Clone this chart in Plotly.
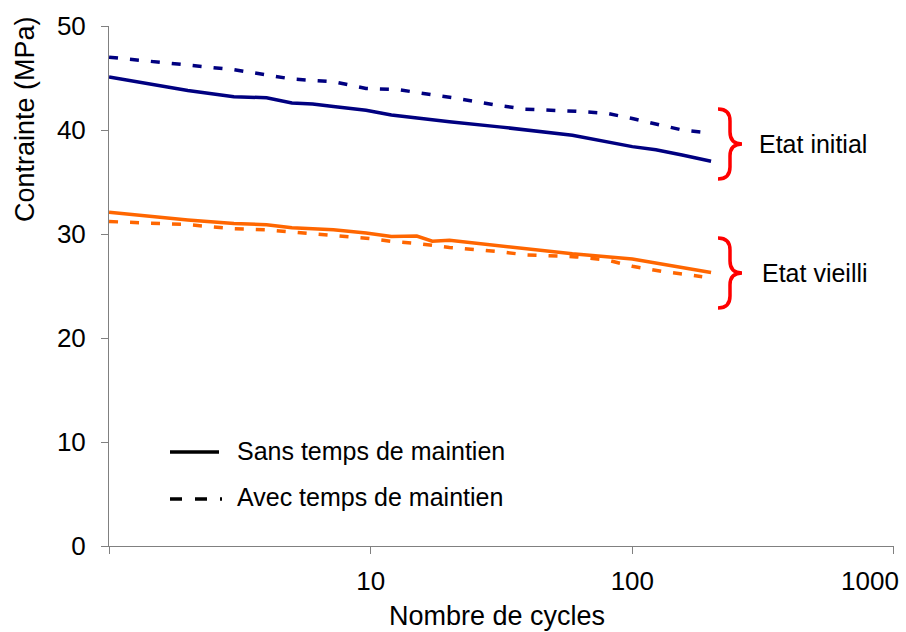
import plotly.graph_objects as go

# ---- data ----
x_init_sans = [1, 2, 3, 4, 5, 6, 7.2, 9.6, 12, 18, 20, 31, 59, 100, 123, 155, 200]
y_init_sans = [45.1, 43.8, 43.2, 43.1, 42.6, 42.5, 42.25, 41.9, 41.45, 41.0, 40.8, 40.3, 39.5, 38.4, 38.1, 37.6, 37.0]

x_init_avec = [1, 2, 3, 4, 5, 7.2, 9.6, 12, 13, 17, 20.6, 30, 39, 61, 80, 100, 127, 155, 185]
y_init_avec = [47.0, 46.2, 45.8, 45.3, 44.9, 44.65, 44.0, 43.9, 43.85, 43.4, 43.1, 42.4, 42.0, 41.8, 41.6, 41.1, 40.5, 40.0, 39.8]

x_vieil_sans = [1, 2, 3, 4, 5, 7.2, 9.6, 12, 15, 17.2, 20, 31, 59, 100, 142, 200]
y_vieil_sans = [32.1, 31.35, 31.0, 30.9, 30.6, 30.4, 30.1, 29.75, 29.8, 29.3, 29.4, 28.9, 28.1, 27.6, 26.9, 26.3]

x_vieil_avec = [1, 2, 3, 4, 5, 7.2, 9.6, 12, 15, 20, 31, 39, 61, 80, 100, 130, 185]
y_vieil_avec = [31.2, 30.9, 30.5, 30.4, 30.2, 29.9, 29.6, 29.3, 29.1, 28.7, 28.3, 28.0, 27.8, 27.5, 26.9, 26.4, 25.9]

x_tickvals = [1, 10, 100, 1000]
x_ticktext = ["", "10", "100", ""]   # "1000" is drawn shifted left to stay inside the page
last_x_label = "1000"
y_tickvals = [0, 10, 20, 30, 40, 50]

NAVY = "#000080"
ORANGE = "#FF6600"
RED = "#FF0000"
FONT = "Arial, Liberation Sans, sans-serif"
DASH = "9px,12px"
AXC = "#808080"

W, H = 906, 632
L, R, T, B = 109, 894, 26, 546


def px(x):
    return (x - L) / (R - L)


def py(y):
    return (B - y) / (B - T)


fig = go.Figure()
fig.add_trace(go.Scatter(x=x_init_sans, y=y_init_sans, mode="lines",
                         line=dict(color=NAVY, width=3.5), showlegend=False))
fig.add_trace(go.Scatter(x=x_init_avec, y=y_init_avec, mode="lines",
                         line=dict(color=NAVY, width=3.5, dash=DASH), showlegend=False))
fig.add_trace(go.Scatter(x=x_vieil_sans, y=y_vieil_sans, mode="lines",
                         line=dict(color=ORANGE, width=3.5), showlegend=False))
fig.add_trace(go.Scatter(x=x_vieil_avec, y=y_vieil_avec, mode="lines",
                         line=dict(color=ORANGE, width=3.5, dash=DASH), showlegend=False))


def brace(x0, ytop, ymid, ybot, depth=12, tip=12):
    xm = x0 + depth
    xt = xm + tip
    pts = [
        ("M", [(x0, ytop)]),
        ("Q", [(xm, ytop), (xm, ytop + 12)]),
        ("L", [(xm, ymid - 12)]),
        ("Q", [(xm, ymid), (xt, ymid)]),
        ("Q", [(xm, ymid), (xm, ymid + 12)]),
        ("L", [(xm, ybot - 12)]),
        ("Q", [(xm, ybot), (x0, ybot)]),
    ]
    s = ""
    for cmd, ps in pts:
        s += cmd + " " + " ".join(f"{px(a):.5f},{py(b):.5f}" for a, b in ps) + " "
    return s.strip()


shapes = [
    dict(type="path", xref="paper", yref="paper", path=brace(718, 109, 144, 179),
         line=dict(color=RED, width=3.5)),
    dict(type="path", xref="paper", yref="paper", path=brace(718, 238, 273, 308),
         line=dict(color=RED, width=3.5)),
    # legend samples
    dict(type="line", xref="paper", yref="paper", x0=px(170), x1=px(219), y0=py(452), y1=py(452),
         line=dict(color="black", width=3.5)),
    dict(type="line", xref="paper", yref="paper", x0=px(170), x1=px(222), y0=py(499), y1=py(499),
         line=dict(color="black", width=3.5, dash="12px,13px")),
]


def ann(text, x, y, size, xanchor="left", textangle=0):
    return dict(text=text, xref="paper", yref="paper", x=px(x), y=py(y),
                xanchor=xanchor, yanchor="middle", showarrow=False, textangle=textangle,
                font=dict(size=size, color="black", family=FONT))


annotations = [
    ann("Etat initial", 757, 144, 25),
    ann("Etat vieilli", 760, 273, 25),
    ann("Sans temps de maintien", 235, 451, 25),
    ann("Avec temps de maintien", 235, 497, 25),
    ann("Nombre de cycles", 497, 616, 27, xanchor="center"),
    ann("Contrainte (MPa)", 25, 119, 27, xanchor="center", textangle=-90),
    ann(last_x_label, 901, 581, 26, xanchor="right"),
]

fig.update_layout(
    width=W, height=H,
    margin=dict(l=L, r=W - R, t=T, b=H - B, pad=0, autoexpand=False),
    paper_bgcolor="white", plot_bgcolor="white",
    showlegend=False,
    shapes=shapes,
    annotations=annotations,
    font=dict(family=FONT, color="black"),
)

fig.update_xaxes(
    type="log", range=[-0.0002, 3.0002],
    tickvals=x_tickvals, ticktext=x_ticktext,
    ticks="outside", ticklen=7, tickcolor=AXC, tickwidth=1,
    showline=True, linecolor=AXC, linewidth=1,
    showgrid=False, zeroline=False, automargin=False,
    tickfont=dict(size=26, family=FONT, color="black"),
    ticklabelstandoff=5,
)
fig.update_yaxes(
    range=[0, 50], tickvals=y_tickvals,
    ticks="outside", ticklen=7, tickcolor=AXC, tickwidth=1,
    showline=True, linecolor=AXC, linewidth=1,
    showgrid=False, zeroline=False, automargin=False,
    tickfont=dict(size=26, family=FONT, color="black"),
    ticklabelstandoff=10,
)

fig.write_html("out.html", config={"displayModeBar": False},
               post_script="document.body.style.margin='0';document.body.style.padding='0';")
